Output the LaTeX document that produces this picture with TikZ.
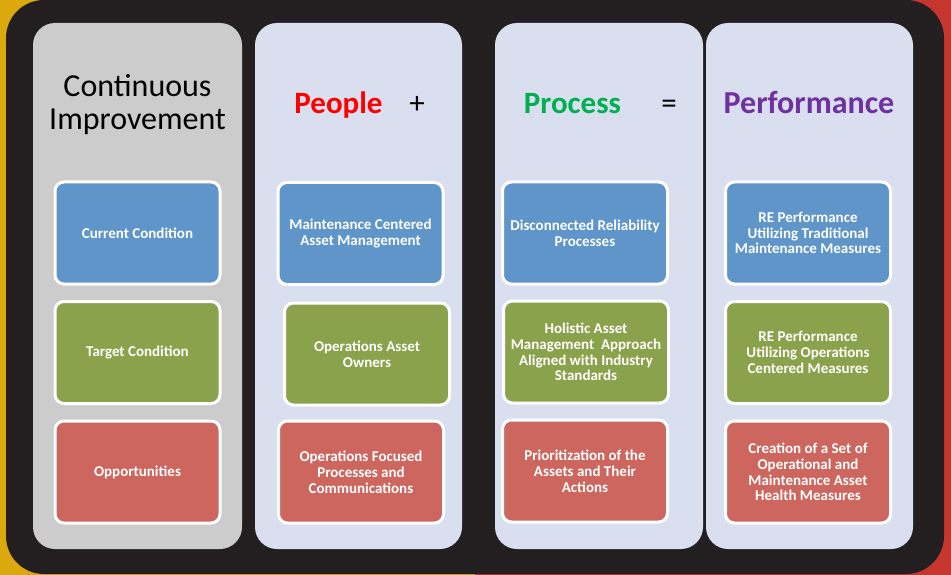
\documentclass[tikz,border=0pt]{standalone}
\usepackage{fontspec}
\setmainfont{Carlito}

\definecolor{frame}{HTML}{231F20}
\definecolor{edgeyellow}{HTML}{DBA90E}
\definecolor{edgered}{HTML}{C6352E}
\definecolor{panelgray}{HTML}{CCCCCC}
\definecolor{panelblue}{HTML}{D9DFEE}
\definecolor{boxblue}{HTML}{5F95C8}
\definecolor{boxgreen}{HTML}{8AA24B}
\definecolor{boxred}{HTML}{CC665F}
\definecolor{peoplered}{HTML}{FF0000}
\definecolor{processgreen}{HTML}{00B050}
\definecolor{perfpurple}{HTML}{7030A0}

\begin{document}
\begin{tikzpicture}[x=1pt,y=-1pt,
  box/.style={draw=white, line width=3pt, rounded corners=9pt, text=white,
    font=\bfseries\fontsize{15}{15.8}\selectfont, align=center,
    minimum width=165pt, minimum height=102pt, inner sep=2pt},
  panel/.style={rounded corners=22pt},
  head/.style={font=\bfseries\fontsize{31}{33}\selectfont, anchor=base},
  sign/.style={font=\fontsize{31}{33}\selectfont, anchor=base}]
\useasboundingbox (0,0) rectangle (951,575);
\fill[edgeyellow] (0,0) rectangle (475,575);
\fill[edgered] (475,0) rectangle (951,575);
\fill[frame, rounded corners=38pt] (6,0) rectangle (944,574);
% the four columns
\fill[panelgray, panel] (33,23) rectangle (242,549);
\fill[panelblue, panel] (255,23) rectangle (462,549);
\fill[panelblue, panel] (495,23) rectangle (703,549);
\fill[panelblue, panel] (706,23) rectangle (913,549);

\node[font=\fontsize{32}{33}\selectfont, align=center, anchor=base] (ci) at (137.5,130) {Continuous\\Improvement};
\node[head, text=peoplered] (people) at (338.5,114) {People};
\node[sign] (plus) at (417,114) {+};
\node[head, text=processgreen] (process) at (572.5,114) {Process};
\node[sign] (equals) at (669,114) {=};
\node[head, text=perfpurple, font=\bfseries\fontsize{32}{33}\selectfont] (perf) at (809,114) {Performance};

\node[box, fill=boxblue] (current) at (137.5,233) {Current Condition};
\node[box, fill=boxgreen] (target) at (137.5,352.5) {Target Condition};
\node[box, fill=boxred] (opport) at (137.5,472) {Opportunities};

\node[box, fill=boxblue] (mcam) at (360.5,233.5) {Maintenance Centered\\Asset Management};
\node[box, fill=boxgreen] (owners) at (367,354) {Operations Asset\\Owners};
\node[box, fill=boxred] (focused) at (361,472) {Operations Focused\\Processes and\\Communications};

\node[box, fill=boxblue] (disconn) at (585,233) {Disconnected Reliability\\Processes};
\node[box, fill=boxgreen] (holistic) at (586,352) {Holistic Asset\\Management~ Approach\\Aligned with Industry\\Standards};
\node[box, fill=boxred] (prior) at (585,471) {Prioritization of the\\Assets and Their\\Actions};

\node[box, fill=boxblue] (retrad) at (808,233) {RE Performance\\Utilizing Traditional\\Maintenance Measures};
\node[box, fill=boxgreen] (reops) at (808,352.5) {RE Performance\\Utilizing Operations\\Centered Measures};
\node[box, fill=boxred] (health) at (808,472) {Creation of a Set of\\Operational and\\Maintenance Asset\\Health Measures};
\end{tikzpicture}
\end{document}
